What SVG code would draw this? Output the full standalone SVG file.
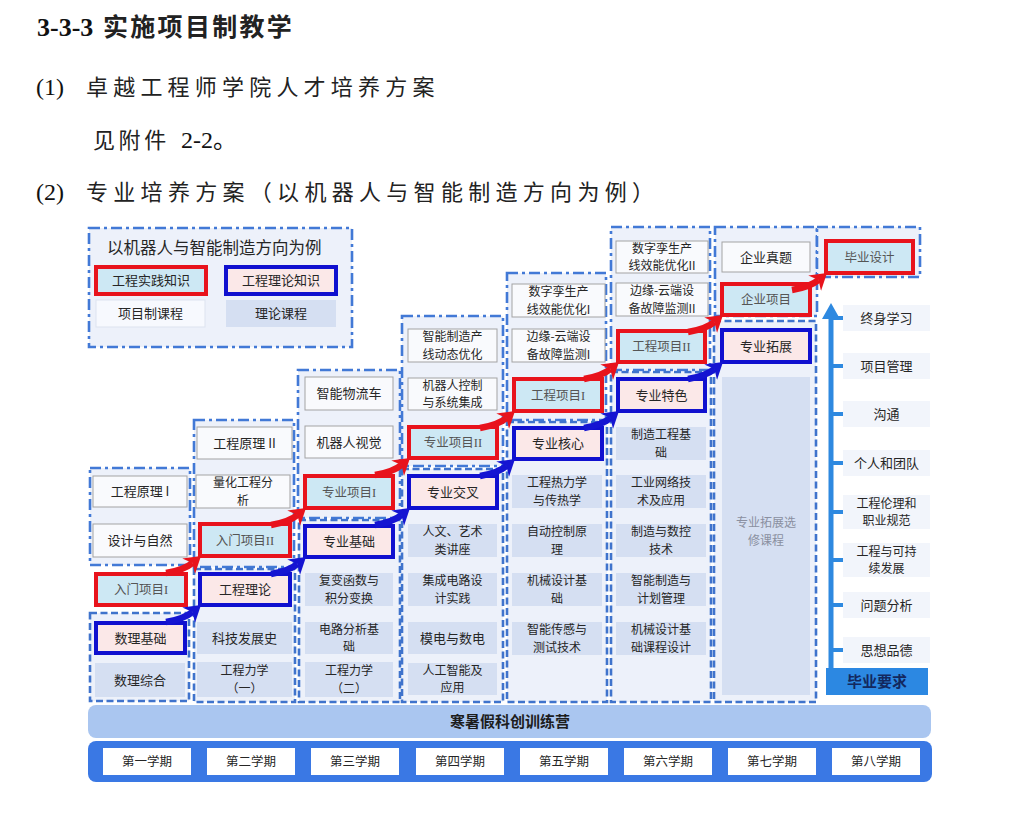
<svg xmlns="http://www.w3.org/2000/svg" width="1024" height="818" viewBox="0 0 1024 818">
<style>
.ct{fill:#edf1fa;stroke:#4279d6;stroke-width:2.6;stroke-dasharray:11 4 3 4}
.cb{fill:#edf1fa;stroke:#3f73cc;stroke-width:2.6;stroke-dasharray:7 3.5}
.wb{fill:#f9fafd;stroke:#a3a3a3;stroke-width:1}
.tb{fill:#d5dff2}
.rb{fill:#cde8f4;stroke:#e8131c;stroke-width:4}
.bb{fill:#fbe8e8;stroke:#1010cf;stroke-width:4}
.t{font-family:"Noto Sans CJK SC","Noto Sans",sans-serif;font-size:13px;fill:#262626;text-anchor:middle}
.t2{font-family:"Noto Sans CJK SC","Noto Sans",sans-serif;font-size:12px;fill:#262626;text-anchor:middle}
.ts{font-family:"Liberation Serif","Noto Sans CJK SC",serif;font-size:12.5px;fill:#555;text-anchor:middle}
.ar{fill:none;stroke:#e8131c;stroke-width:6.5}
.ab{fill:none;stroke:#1515d2;stroke-width:6.5}
.hd{font-family:"Liberation Serif","Noto Sans CJK SC",serif;fill:#111}
.hc{font-family:"Noto Sans CJK SC",sans-serif;fill:#222}
.req{fill:#f2f5fb}
.tick{fill:#2e89e0}
.sem{fill:#ffffff}
</style>
<defs>
<marker id="mr" markerUnits="userSpaceOnUse" markerWidth="22" markerHeight="22" viewBox="0 0 22 22" refX="5" refY="11" orient="auto"><path d="M0,1 L16,11 L0,21 L5,11 Z" fill="#e8131c"/></marker>
<marker id="mb" markerUnits="userSpaceOnUse" markerWidth="22" markerHeight="22" viewBox="0 0 22 22" refX="5" refY="11" orient="auto"><path d="M0,1 L16,11 L0,21 L5,11 Z" fill="#1515d2"/></marker>
</defs>
<rect width="1024" height="818" fill="#ffffff"/>

<g id="header">
<text class="hd" x="37" y="36" style="font-size:26px;font-weight:bold">3-3-3</text>
<text class="hc" x="103" y="36" style="font-size:25px;font-weight:bold;letter-spacing:2.3px">实施项目制教学</text>
<text class="hd" x="36" y="95" style="font-size:24px">(1)</text>
<text class="hc" x="86" y="95" style="font-size:22px;letter-spacing:5.2px">卓越工程师学院人才培养方案</text>
<text class="hc" x="93" y="148" style="font-size:22px;letter-spacing:3.6px">见附件</text>
<text class="hd" x="181" y="148" style="font-size:24px">2-2。</text>
<text class="hd" x="36" y="200" style="font-size:24px">(2)</text>
<text class="hc" x="86" y="200" style="font-size:22px;letter-spacing:5.3px">专业培养方案（以机器人与智能制造方向为例）</text>
</g>

<g id="legend">
<rect class="ct" x="89" y="228" width="263" height="119"/>
<text class="t" x="107" y="254" style="font-size:16.5px;text-anchor:start">以机器人与智能制造方向为例</text>
<rect class="rb" x="96" y="267" width="110" height="27"/>
<text class="t" x="151" y="285">工程实践知识</text>
<rect class="bb" x="226" y="267" width="110" height="27"/>
<text class="t" x="281" y="285">工程理论知识</text>
<rect x="96" y="300" width="109" height="27" fill="#f7f9fe" stroke="#dde3ef"/>
<text class="t" x="150.5" y="318">项目制课程</text>
<rect class="tb" x="226" y="300" width="110" height="27"/>
<text class="t" x="281" y="318">理论课程</text>
</g>

<g id="containers">
<rect class="ct" x="90" y="468" width="100" height="97"/>
<rect class="cb" x="90" y="613" width="99" height="88"/>
<rect class="ct" x="194" y="420" width="100" height="147"/>
<rect class="cb" x="194" y="569" width="101" height="133"/>
<rect class="ct" x="298" y="370" width="102" height="148"/>
<rect class="cb" x="299" y="520" width="101" height="182"/>
<rect class="ct" x="402" y="316" width="101" height="150"/>
<rect class="cb" x="402" y="469" width="101" height="233"/>
<rect class="ct" x="507" y="273" width="99" height="147"/>
<rect class="cb" x="507" y="422" width="100" height="280"/>
<rect class="ct" x="611" y="227" width="99" height="143"/>
<rect class="cb" x="611" y="372" width="100" height="330"/>
<rect class="ct" x="715" y="227" width="102" height="89"/>
<rect class="cb" x="714" y="321" width="102" height="381"/>
<rect class="ct" x="817" y="227" width="103" height="50"/>
</g>

<g id="sem1">
<g id="n-gcyl1"><rect class="wb" x="93" y="476" width="94" height="31"/><text class="t" x="140" y="496">工程原理 I</text></g>
<g id="n-sjyzr"><rect class="wb" x="93" y="524" width="94" height="33"/><text class="t" x="140" y="545">设计与自然</text></g>
<g id="n-rmxm1"><rect class="rb" x="96" y="574" width="90" height="31"/><text class="ts" x="141" y="594">入门项目I</text></g>
<g id="n-sljc"><rect class="bb" x="96" y="623" width="89" height="30"/><text class="t" x="140.5" y="642.5">数理基础</text></g>
<g id="n-slzh"><rect class="tb" x="95" y="663" width="90" height="34"/><text class="t" x="140" y="684.5">数理综合</text></g>
</g>

<g id="sem2">
<g id="n-gcyl2"><rect class="wb" x="197" y="427" width="95" height="32"/><text class="t" x="244.5" y="447.5">工程原理 II</text></g>
<g id="n-lhgcfx"><rect class="wb" x="196" y="475" width="94" height="33"/><text class="t2" x="243" y="487">量化工程分<tspan x="243" dy="17.5">析</tspan></text></g>
<g id="n-rmxm2"><rect class="rb" x="200" y="524" width="90" height="32"/><text class="ts" x="245" y="544.5">入门项目II</text></g>
<g id="n-gcll"><rect class="bb" x="200" y="574" width="90" height="31"/><text class="t" x="245" y="594">工程理论</text></g>
<g id="n-kjfzs"><rect class="tb" x="197" y="622" width="95" height="32"/><text class="t" x="244.5" y="642.5">科技发展史</text></g>
<g id="n-gclx1"><rect class="tb" x="197" y="662" width="95" height="35"/><text class="t2" x="244.5" y="675">工程力学<tspan x="244.5" dy="17.5">（一）</tspan></text></g>
</g>

<g id="sem3">
<g id="n-znwlc"><rect class="wb" x="305" y="377" width="88" height="33"/><text class="t" x="349" y="398">智能物流车</text></g>
<g id="n-jqrsj"><rect class="wb" x="305" y="426" width="88" height="32"/><text class="t" x="349" y="446.5">机器人视觉</text></g>
<g id="n-zyxm1"><rect class="rb" x="305" y="476" width="88" height="32"/><text class="ts" x="349" y="496.5">专业项目I</text></g>
<g id="n-zyjc"><rect class="bb" x="305" y="526" width="88" height="31"/><text class="t" x="349" y="546">专业基础</text></g>
<g id="n-fbhs"><rect class="tb" x="305" y="573" width="88" height="33"/><text class="t2" x="349" y="585">复变函数与<tspan x="349" dy="17.5">积分变换</tspan></text></g>
<g id="n-dlfx"><rect class="tb" x="305" y="622" width="88" height="32"/><text class="t2" x="349" y="633.5">电路分析基<tspan x="349" dy="17.5">础</tspan></text></g>
<g id="n-gclx2"><rect class="tb" x="305" y="662" width="88" height="35"/><text class="t2" x="349" y="675">工程力学<tspan x="349" dy="17.5">（二）</tspan></text></g>
</g>

<g id="sem4">
<g id="n-znzzcx"><rect class="wb" x="408" y="329" width="89" height="33"/><text class="t2" x="452.5" y="341">智能制造产<tspan x="452.5" dy="17.5">线动态优化</tspan></text></g>
<g id="n-jqrkz"><rect class="wb" x="408" y="378" width="89" height="32"/><text class="t2" x="452.5" y="389.5">机器人控制<tspan x="452.5" dy="17.5">与系统集成</tspan></text></g>
<g id="n-zyxm2"><rect class="rb" x="409" y="427" width="88" height="31"/><text class="ts" x="453" y="447">专业项目II</text></g>
<g id="n-zyjx"><rect class="bb" x="409" y="476" width="88" height="32"/><text class="t" x="453" y="496.5">专业交叉</text></g>
<g id="n-rwys"><rect class="tb" x="408" y="524" width="89" height="33"/><text class="t2" x="452.5" y="536">人文、艺术<tspan x="452.5" dy="17.5">类讲座</tspan></text></g>
<g id="n-jcdl"><rect class="tb" x="408" y="573" width="89" height="33"/><text class="t2" x="452.5" y="585">集成电路设<tspan x="452.5" dy="17.5">计实践</tspan></text></g>
<g id="n-mdsd"><rect class="tb" x="408" y="622" width="89" height="32"/><text class="t" x="452.5" y="642.5">模电与数电</text></g>
<g id="n-rgzn"><rect class="tb" x="408" y="663" width="89" height="32"/><text class="t2" x="452.5" y="674.5">人工智能及<tspan x="452.5" dy="17.5">应用</tspan></text></g>
</g>

<g id="sem5">
<g id="n-szls1"><rect class="wb" x="512" y="284" width="93" height="33"/><text class="t2" x="558.5" y="296">数字孪生产<tspan x="558.5" dy="17.5">线效能优化I</tspan></text></g>
<g id="n-byyd1"><rect class="wb" x="512" y="329" width="93" height="33"/><text class="t2" x="558.5" y="341">边缘-云端设<tspan x="558.5" dy="17.5">备故障监测I</tspan></text></g>
<g id="n-gcxm1"><rect class="rb" x="514" y="379" width="88" height="32"/><text class="ts" x="558" y="399.5">工程项目I</text></g>
<g id="n-zyhx"><rect class="bb" x="514" y="428" width="88" height="31"/><text class="t" x="558" y="448">专业核心</text></g>
<g id="n-gcrlx"><rect class="tb" x="512" y="475" width="90" height="33"/><text class="t2" x="557" y="487">工程热力学<tspan x="557" dy="17.5">与传热学</tspan></text></g>
<g id="n-zdkz"><rect class="tb" x="512" y="524" width="90" height="33"/><text class="t2" x="557" y="536">自动控制原<tspan x="557" dy="17.5">理</tspan></text></g>
<g id="n-jxsj"><rect class="tb" x="512" y="573" width="90" height="33"/><text class="t2" x="557" y="585">机械设计基<tspan x="557" dy="17.5">础</tspan></text></g>
<g id="n-zncg"><rect class="tb" x="512" y="622" width="90" height="33"/><text class="t2" x="557" y="634">智能传感与<tspan x="557" dy="17.5">测试技术</tspan></text></g>
</g>

<g id="sem6">
<g id="n-szls2"><rect class="wb" x="616" y="241" width="92" height="32"/><text class="t2" x="662" y="252.5">数字孪生产<tspan x="662" dy="17.5">线效能优化II</tspan></text></g>
<g id="n-byyd2"><rect class="wb" x="616" y="283" width="92" height="33"/><text class="t2" x="662" y="295">边缘-云端设<tspan x="662" dy="17.5">备故障监测II</tspan></text></g>
<g id="n-gcxm2"><rect class="rb" x="618" y="331" width="87" height="31"/><text class="ts" x="661.5" y="351">工程项目II</text></g>
<g id="n-zyts"><rect class="bb" x="618" y="379" width="87" height="32"/><text class="t" x="661.5" y="399.5">专业特色</text></g>
<g id="n-zzgc"><rect class="tb" x="616" y="427" width="90" height="33"/><text class="t2" x="661" y="439">制造工程基<tspan x="661" dy="17.5">础</tspan></text></g>
<g id="n-gywl"><rect class="tb" x="616" y="475" width="90" height="33"/><text class="t2" x="661" y="487">工业网络技<tspan x="661" dy="17.5">术及应用</tspan></text></g>
<g id="n-zzsk"><rect class="tb" x="616" y="524" width="90" height="33"/><text class="t2" x="661" y="536">制造与数控<tspan x="661" dy="17.5">技术</tspan></text></g>
<g id="n-znzzjh"><rect class="tb" x="616" y="573" width="90" height="33"/><text class="t2" x="661" y="585">智能制造与<tspan x="661" dy="17.5">计划管理</tspan></text></g>
<g id="n-jxkcsj"><rect class="tb" x="616" y="622" width="90" height="33"/><text class="t2" x="661" y="634">机械设计基<tspan x="661" dy="17.5">础课程设计</tspan></text></g>
</g>

<g id="sem7">
<g id="n-qyzt"><rect class="wb" x="722" y="242" width="88" height="30"/><text class="t" x="766" y="261.5">企业真题</text></g>
<g id="n-qyxm"><rect class="rb" x="722" y="284" width="88" height="31"/><text class="ts" x="766" y="304">企业项目</text></g>
<g id="n-zytz"><rect class="bb" x="722" y="330" width="88" height="32"/><text class="t" x="766" y="350.5">专业拓展</text></g>
<g id="n-zytzxx"><rect class="tb" x="722" y="377" width="88" height="318"/><text class="t2" x="766" y="527" style="fill:#8a8fa0">专业拓展选<tspan x="766" dy="17.5">修课程</tspan></text></g>
</g>

<g id="sem8">
<g id="n-bysj"><rect class="rb" x="826" y="241" width="87" height="32"/><text class="ts" x="869.5" y="261.5">毕业设计</text></g>
</g>

<g id="requirements">
<line x1="831" y1="668" x2="831" y2="315" stroke="#2e89e0" stroke-width="5"/>
<polygon points="822,319 831,303 840,319" fill="#2e89e0"/>
<rect class="tick" x="833" y="316" width="10" height="4"/>
<rect class="tick" x="833" y="364" width="10" height="4"/>
<rect class="tick" x="833" y="412" width="10" height="4"/>
<rect class="tick" x="833" y="461" width="10" height="4"/>
<rect class="tick" x="833" y="510" width="10" height="4"/>
<rect class="tick" x="833" y="558" width="10" height="4"/>
<rect class="tick" x="833" y="603" width="10" height="4"/>
<rect class="tick" x="833" y="648" width="10" height="4"/>
<g id="r1"><rect class="req" x="843" y="305" width="87" height="26"/><text class="t" x="886.5" y="322.5">终身学习</text></g>
<g id="r2"><rect class="req" x="843" y="353" width="87" height="26"/><text class="t" x="886.5" y="370.5">项目管理</text></g>
<g id="r3"><rect class="req" x="843" y="401" width="87" height="26"/><text class="t" x="886.5" y="418.5">沟通</text></g>
<g id="r4"><rect class="req" x="843" y="450" width="87" height="26"/><text class="t" x="886.5" y="467.5">个人和团队</text></g>
<g id="r5"><rect class="req" x="843" y="495" width="87" height="34"/><text class="t2" x="886.5" y="507.5">工程伦理和<tspan x="886.5" dy="17.5">职业规范</tspan></text></g>
<g id="r6"><rect class="req" x="843" y="543" width="87" height="34"/><text class="t2" x="886.5" y="555.5">工程与可持<tspan x="886.5" dy="17.5">续发展</tspan></text></g>
<g id="r7"><rect class="req" x="843" y="592" width="87" height="26"/><text class="t" x="886.5" y="609.5">问题分析</text></g>
<g id="r8"><rect class="req" x="843" y="637" width="87" height="26"/><text class="t" x="886.5" y="654.5">思想品德</text></g>
<g id="r-title"><rect x="826" y="668" width="102" height="27" fill="#2c88e2"/><text class="t" x="877" y="687" style="font-size:15px;font-weight:bold;fill:#13285f">毕业要求</text></g>
</g>

<g id="camp">
<rect x="88" y="705" width="843" height="33" rx="8" fill="#aac6f0"/>
<text class="t" x="510" y="727" style="font-size:15px;font-weight:bold;fill:#1d1d1d">寒暑假科创训练营</text>
</g>

<g id="semesters">
<rect x="88" y="741" width="844" height="41" rx="8" fill="#3a78e4"/>
<g id="s1"><rect class="sem" x="103" y="748" width="88" height="27"/><text class="t" x="147" y="766" style="font-size:12.5px">第一学期</text></g>
<g id="s2"><rect class="sem" x="207" y="748" width="88" height="27"/><text class="t" x="251" y="766" style="font-size:12.5px">第二学期</text></g>
<g id="s3"><rect class="sem" x="311" y="748" width="88" height="27"/><text class="t" x="355" y="766" style="font-size:12.5px">第三学期</text></g>
<g id="s4"><rect class="sem" x="416" y="748" width="88" height="27"/><text class="t" x="460" y="766" style="font-size:12.5px">第四学期</text></g>
<g id="s5"><rect class="sem" x="520" y="748" width="88" height="27"/><text class="t" x="564" y="766" style="font-size:12.5px">第五学期</text></g>
<g id="s6"><rect class="sem" x="624" y="748" width="88" height="27"/><text class="t" x="668" y="766" style="font-size:12.5px">第六学期</text></g>
<g id="s7"><rect class="sem" x="728" y="748" width="88" height="27"/><text class="t" x="772" y="766" style="font-size:12.5px">第七学期</text></g>
<g id="s8"><rect class="sem" x="832" y="748" width="88" height="27"/><text class="t" x="876" y="766" style="font-size:12.5px">第八学期</text></g>
</g>

<g id="connectors">
<path class="ar" marker-end="url(#mr)" d="M166,573 Q184,570 192.5,563"/>
<path class="ar" marker-end="url(#mr)" d="M271,525 Q289,522 297.5,515"/>
<path class="ar" marker-end="url(#mr)" d="M375,475 Q393,472 401.5,465"/>
<path class="ar" marker-end="url(#mr)" d="M480,428 Q498,425 506.5,418"/>
<path class="ar" marker-end="url(#mr)" d="M584,379 Q602,376 610.5,369"/>
<path class="ar" marker-end="url(#mr)" d="M688,332 Q706,329 714.5,322"/>
<path class="ar" marker-end="url(#mr)" d="M792,290 Q810,287 818.5,280"/>
<path class="ab" marker-end="url(#mb)" d="M166,622 Q184,619 192.5,612"/>
<path class="ab" marker-end="url(#mb)" d="M271,574 Q289,571 297.5,564"/>
<path class="ab" marker-end="url(#mb)" d="M375,525 Q393,522 401.5,515"/>
<path class="ab" marker-end="url(#mb)" d="M480,476 Q498,473 506.5,466"/>
<path class="ab" marker-end="url(#mb)" d="M584,428 Q602,425 610.5,418"/>
<path class="ab" marker-end="url(#mb)" d="M688,379 Q706,376 714.5,369"/>
</g>
</svg>
